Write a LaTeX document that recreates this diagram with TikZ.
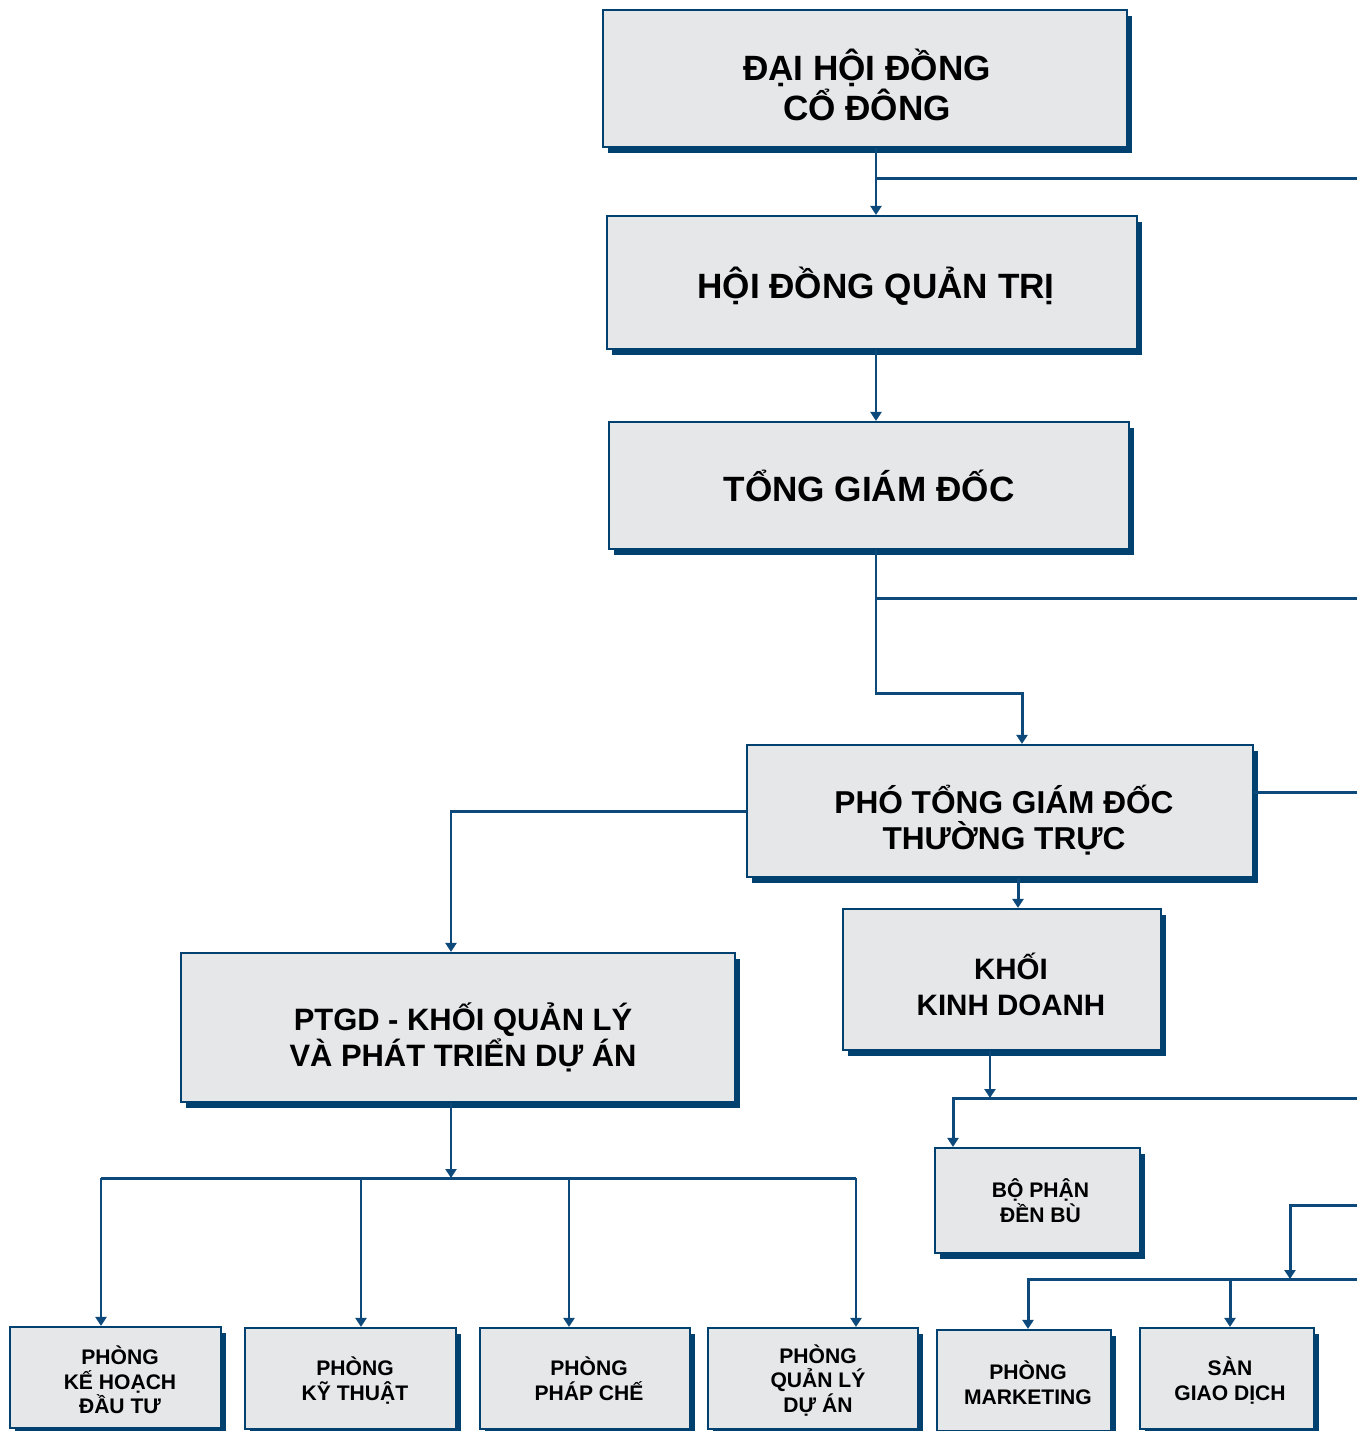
\documentclass[tikz,border=0pt]{standalone}
\usepackage{fontspec}
\setmainfont{Liberation Sans}
\usepackage{tikz}
\usetikzlibrary{calc,arrows.meta,shadows}
\definecolor{navyx}{HTML}{00416F}
\definecolor{linex}{HTML}{0D4A7B}
\definecolor{boxgray}{HTML}{E6E7E9}
\newcommand{\fbig}{\fontsize{10}{11.4}\selectfont\bfseries}
\newcommand{\fmid}{\fontsize{8.8}{10.1}\selectfont\bfseries}
\newcommand{\fsmall}{\fontsize{6}{7}\selectfont\bfseries}
\tikzset{
  unit/.style={draw=navyx,line width=0.6pt,fill=boxgray,inner sep=0pt,
    drop shadow={shadow xshift=0.05cm,shadow yshift=-0.055cm,fill=navyx,opacity=1}},
  lbl/.style={align=center,text=black,inner sep=0pt},
  link/.style={linex,line width=0.85pt},
  ar/.style={link,-{Triangle[length=0.9mm,width=1.1mm]}}
}
\begin{document}
\begin{tikzpicture}
\useasboundingbox (0,0) rectangle (13.57,-14.31);
\clip (0,0) rectangle (13.57,-14.31);
% boxes
\node[unit,minimum width=5.24cm,minimum height=1.37cm] (dhdcd) at (8.65,-0.785) {};
\node[unit,minimum width=5.30cm,minimum height=1.33cm] (hdqt) at (8.72,-2.825) {};
\node[unit,minimum width=5.20cm,minimum height=1.27cm] (tgd) at (8.69,-4.855) {};
\node[unit,minimum width=5.06cm,minimum height=1.32cm] (pttt) at (10.00,-8.11) {};
\node[unit,minimum width=3.18cm,minimum height=1.41cm] (kd) at (10.02,-9.795) {};
\node[unit,minimum width=5.54cm,minimum height=1.49cm] (kql) at (4.58,-10.275) {};
\node[unit,minimum width=2.05cm,minimum height=1.05cm] (bp) at (10.375,-12.005) {};
\node[unit,minimum width=1.74cm,minimum height=1.01cm] (mkt) at (10.24,-13.805) {};
\node[unit,minimum width=1.74cm,minimum height=1.01cm] (san) at (12.27,-13.785) {};
\node[unit,minimum width=2.11cm,minimum height=1.01cm] (khdt) at (1.155,-13.775) {};
\node[unit,minimum width=2.11cm,minimum height=1.01cm] (kt) at (3.505,-13.785) {};
\node[unit,minimum width=2.10cm,minimum height=1.01cm] (pc) at (5.85,-13.785) {};
\node[unit,minimum width=2.10cm,minimum height=1.01cm] (qlda) at (8.13,-13.785) {};

% texts
\node[lbl,font=\fbig] (dhdcd-t) at ($(dhdcd)+(0.02,-0.06)$) {ĐẠI HỘI ĐỒNG\\CỔ ĐÔNG};
\node[lbl,font=\fbig] (hdqt-t) at ($(hdqt)+(0.04,-0.04)$) {HỘI ĐỒNG QUẢN TRỊ};
\node[lbl,font=\fbig] (tgd-t) at ($(tgd)+(0,0)$) {TỔNG GIÁM ĐỐC};
\node[lbl,font=\fontsize{9}{10.2}\selectfont\bfseries] (pttt-t) at ($(pttt)+(0.04,-0.09)$) {PHÓ TỔNG GIÁM ĐỐC\\THƯỜNG TRỰC};
\node[lbl,font=\fontsize{8.4}{10.2}\selectfont\bfseries] (kd-t) at ($(kd)+(0.09,-0.045)$) {KHỐI\\KINH DOANH};
\node[lbl,font=\fmid] (kql-t) at ($(kql)+(0.05,-0.10)$) {PTGD - KHỐI QUẢN LÝ\\VÀ PHÁT TRIỂN DỰ ÁN};
\node[lbl,font=\fsmall] (bp-t) at ($(bp)+(0.03,0)$) {BỘ PHẬN\\ĐỀN BÙ};
\node[lbl,font=\fsmall] (mkt-t) at ($(mkt)+(0.04,-0.02)$) {PHÒNG\\MARKETING};
\node[lbl,font=\fsmall] (san-t) at ($(san)+(0.03,-0.02)$) {SÀN\\GIAO DỊCH};
\node[lbl,font=\fsmall] (khdt-t) at ($(khdt)+(0.045,-0.025)$) {PHÒNG\\KẾ HOẠCH\\ĐẦU TƯ};
\node[lbl,font=\fsmall] (kt-t) at ($(kt)+(0.045,-0.02)$) {PHÒNG\\KỸ THUẬT};
\node[lbl,font=\fsmall] (pc-t) at ($(pc)+(0.04,0)$) {PHÒNG\\PHÁP CHẾ};
\node[lbl,font=\fsmall] (qlda-t) at ($(qlda)+(0.05,-0.02)$) {PHÒNG\\QUẢN LÝ\\DỰ ÁN};

% connectors
\coordinate (trunk) at (8.76,0);
\coordinate (e1) at (13.57,-1.78);
\coordinate (e2) at (13.57,-5.98);
\coordinate (e3) at (13.57,-7.92);
\coordinate (e4) at (13.57,-10.98);
\coordinate (e5) at (13.57,-12.05);
\coordinate (e6) at (13.57,-12.79);
\draw[ar] (dhdcd.south -| trunk) -- (hdqt.north -| trunk);
\draw[link] (trunk |- e1) -- (e1);
\draw[ar] (hdqt.south -| trunk) -- (tgd.north -| trunk);
\draw[link] (trunk |- e2) -- (e2);
\coordinate (bend1) at (10.22,-6.93);
\draw[ar] (tgd.south -| trunk) |- (bend1) -- (pttt.north -| bend1);
\draw[link] (pttt.east |- e3) -- (e3);
\coordinate (k1) at (4.51,-8.11);
\draw[ar] (pttt.west) -| (kql.north -| k1);
\coordinate (k2) at (10.18,0);
\draw[ar] (pttt.south -| k2) -- (kd.north -| k2);
\coordinate (k3) at (9.90,-10.98);
\draw[ar] (kd.south -| k3) -- (k3);
\coordinate (k4) at (9.53,0);
\draw[ar] (e4) -| (bp.north -| k4);
\coordinate (k5) at (12.90,-12.79);
\draw[ar] (e5) -| (k5);
\coordinate (k6) at (10.28,0);
\draw[ar] (e6) -| (mkt.north -| k6);
\coordinate (k7) at (12.30,-12.79);
\draw[ar] (k7) -- (san.north -| k7);
\coordinate (k8) at (4.51,-11.78);
\draw[ar] (kql.south -| k8) -- (k8);
\foreach \n/\x in {khdt/1.01,kt/3.61,pc/5.69,qlda/8.56}{
  \coordinate (d-\n) at (\x,-11.78);
  \draw[ar] (d-\n) -- (\n.north -| d-\n);
}
\draw[link] (d-khdt) -- (d-qlda);
\end{tikzpicture}
\end{document}
